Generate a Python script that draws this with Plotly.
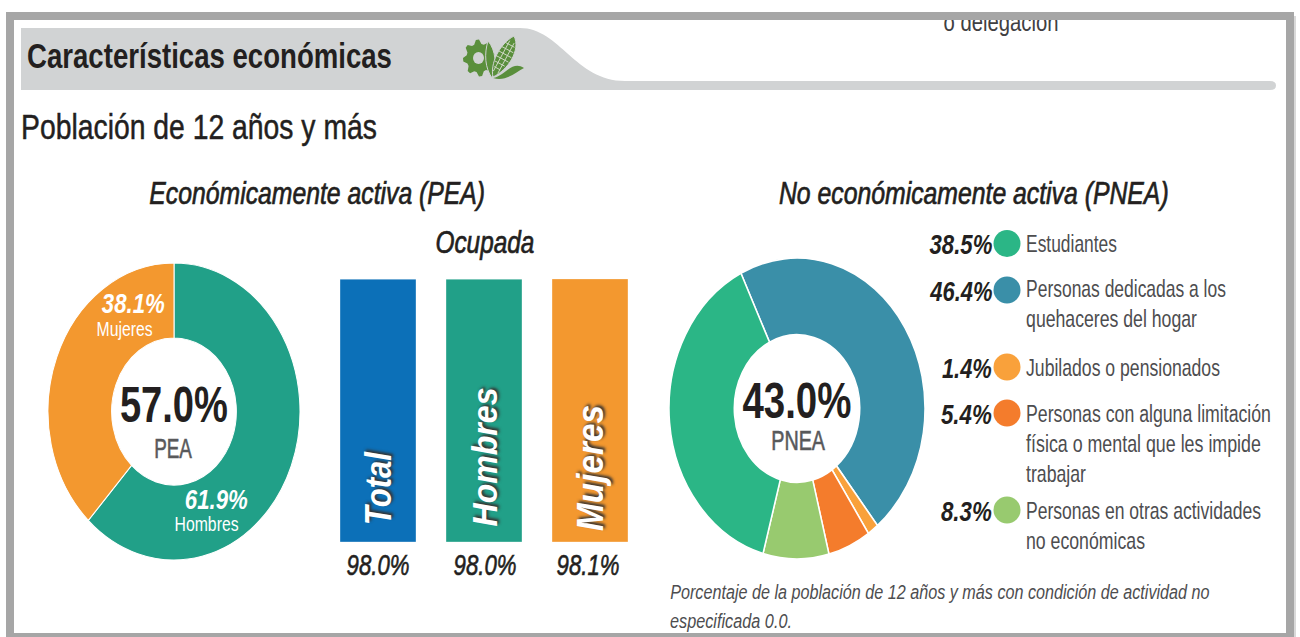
import json
import numpy as np
import plotly.graph_objects as go

W, H = 1300, 637
FONT = "Liberation Sans"
DARK = "#231f20"
GREY_TXT = "#4d4d4f"

pea_labels = ["Hombres", "Mujeres"]
pea_values = [61.9, 38.1]
pea_colors = ["#21a088", "#f3982f"]

ocup_cats = ["Total", "Hombres", "Mujeres"]
ocup_vals = [98.0, 98.0, 98.1]
ocup_colors = ["#0c70b8", "#21a088", "#f3982f"]

pnea_labels = ["Personas dedicadas a los quehaceres del hogar", "Jubilados o pensionados",
               "Personas con alguna limitación física o mental que les impide trabajar",
               "Personas en otras actividades no económicas", "Estudiantes"]
pnea_values = [46.4, 1.4, 5.4, 8.3, 38.5]
pnea_colors = ["#3a8fa8", "#f9a13b", "#f47c2c", "#98ca6f", "#2bb686"]

legend_pct = ["38.5%", "46.4%", "1.4%", "5.4%", "8.3%"]
legend_col = ["#2bb686", "#3a8fa8", "#f9a13b", "#f47c2c", "#98ca6f"]
legend_y = [243.5, 290, 367, 413, 510]
legend_text_y = [243.5, 288.5, 367, 413, 510]
legend_lines = [["Estudiantes"],
                ["Personas dedicadas a los", "quehaceres del hogar"],
                ["Jubilados o pensionados"],
                ["Personas con alguna limitación", "física o mental que les impide", "trabajar"],
                ["Personas en otras actividades", "no económicas"]]
legend_pct_w = [63, 63, 50, 51, 51]
legend_line_w = [[91], [200, 171], [194], [245, 235, 60], [235, 119]]


def px(x): return x / W
def py(y): return 1 - y / H


fig = go.Figure()


def pie_domain(cx, cy, r):
    return dict(x=[px(cx - r), px(cx + r)], y=[py(cy + r), py(cy - r)])


fig.add_trace(go.Pie(labels=pea_labels, values=pea_values, sort=False, direction="clockwise",
                     rotation=0, hole=0.495, textinfo="none", hoverinfo="label+percent",
                     marker=dict(colors=pea_colors, line=dict(color="white", width=1)),
                     domain=pie_domain(174, 411.5, 126), showlegend=False))
fig.add_trace(go.Pie(labels=pnea_labels, values=pnea_values, sort=False, direction="clockwise",
                     rotation=-26, hole=0.49, textinfo="none", hoverinfo="label+percent",
                     marker=dict(colors=pnea_colors, line=dict(color="white", width=1.5)),
                     domain=pie_domain(797, 408.5, 128), showlegend=False))

fig.add_trace(go.Bar(x=ocup_cats, y=ocup_vals, width=0.717, showlegend=False,
                     marker=dict(color=ocup_colors, line=dict(color="rgba(255,255,255,0.35)", width=1))))
fig.update_layout(
    xaxis=dict(domain=[px(325), px(643)], range=[-0.5, 2.5], visible=False, type="category"),
    yaxis=dict(domain=[py(542), py(279)], range=[0, 98.05], visible=False),
    xaxis2=dict(domain=[0, 1], range=[0, W], visible=False, anchor="y2"),
    yaxis2=dict(domain=[0, 1], range=[H, 0], visible=False, anchor="x2"),
    width=W, height=H, autosize=False,
    margin=dict(l=0, r=0, t=0, b=0),
    paper_bgcolor="white", plot_bgcolor="rgba(0,0,0,0)",
    font=dict(family=FONT, color=DARK),
)

# text clipped by the frame
fig.add_trace(go.Scatter(x=[1001], y=[31], mode="text", text=["o delegación"], xaxis="x2", yaxis="y2",
                         textfont=dict(size=25, family=FONT, color="#414042"), showlegend=False,
                         hoverinfo="skip", cliponaxis=False))

# legend dots
fig.add_trace(go.Scatter(x=[1007] * len(legend_y), y=legend_y, mode="markers",
                         xaxis="x2", yaxis="y2", showlegend=False, hoverinfo="skip",
                         marker=dict(size=27, color=legend_col, line=dict(width=0))))

shapes = []


def pshape(**k):
    shapes.append(dict(xref="paper", yref="paper", **k))


hdr = (f"M {px(21)} {py(28)} L {px(520)} {py(28)} "
       f"C {px(560)} {py(28)}, {px(575)} {py(81)}, {px(625)} {py(81)} "
       f"L {px(1270)} {py(81)} Q {px(1276)} {py(81)}, {px(1276)} {py(85.5)} Q {px(1276)} {py(90)}, {px(1270)} {py(90)} "
       f"L {px(21)} {py(90)} Z")
pshape(type="path", path=hdr, fillcolor="#d1d3d4", line=dict(width=0), layer="below")

# icon: gear
GREEN = "#5a8f3c"
BG = "#d1d3d4"
cx, cy = 479, 58
teeth = 8
pts = []
for i in range(teeth * 4):
    a = 2 * np.pi * i / (teeth * 4) - np.pi / 16
    r = 16 if i % 4 in (0, 1) else 12.5
    pts.append((cx + r * np.cos(a), cy + r * np.sin(a) * 1.15))
gear = "M " + " L ".join(f"{px(a)} {py(b)}" for a, b in pts) + " Z"
pshape(type="path", path=gear, fillcolor=GREEN, line=dict(width=0), layer="above")
pshape(type="circle", x0=px(473), x1=px(484), y0=py(64), y1=py(52), fillcolor=BG, line=dict(width=0), layer="above")
# icon: leaves
leaf2 = (f"M {px(492)} {py(78)} C {px(485)} {py(68)}, {px(484)} {py(54)}, {px(488)} {py(41)} "
         f"C {px(496)} {py(50)}, {px(497)} {py(66)}, {px(492)} {py(78)} Z")
pshape(type="path", path=leaf2, fillcolor=GREEN, line=dict(color=BG, width=1), layer="above")
leaf = (f"M {px(493)} {py(78)} C {px(505)} {py(76)}, {px(512)} {py(60)}, {px(524)} {py(68)} "
        f"C {px(516)} {py(72)}, {px(506)} {py(82)}, {px(493)} {py(78)} Z")
pshape(type="path", path=leaf, fillcolor=GREEN, line=dict(width=0), layer="above")
# icon: cob with kernel grid
corn = (f"M {px(514)} {py(36)} C {px(521)} {py(50)}, {px(508)} {py(70)}, {px(493)} {py(77)} "
        f"C {px(490)} {py(64)}, {px(499)} {py(44)}, {px(514)} {py(36)} Z")
pshape(type="path", path=corn, fillcolor=GREEN, line=dict(color=BG, width=1), layer="above")
A, B = np.array([514.0, 37.0]), np.array([493.0, 76.0])
u = (B - A) / np.linalg.norm(B - A)
n = np.array([-u[1], u[0]])
for t in (0.2, 0.32, 0.44, 0.56, 0.68, 0.8):
    c = A + (B - A) * t
    h = 7.5 * np.sin(np.pi * min(t + 0.05, 0.95))
    p0, p1 = c - n * h, c + n * h
    pshape(type="line", x0=px(p0[0]), y0=py(p0[1]), x1=px(p1[0]), y1=py(p1[1]),
           line=dict(color="#cfd8c4", width=1), layer="above")
for off in (-3, 2):
    p0, p1 = A + (B - A) * 0.12 + n * off, A + (B - A) * 0.9 + n * off
    pshape(type="line", x0=px(p0[0]), y0=py(p0[1]), x1=px(p1[0]), y1=py(p1[1]),
           line=dict(color="#cfd8c4", width=1), layer="above")

# frame with soft right shadow
pshape(type="rect", x0=px(1294), x1=px(1296), y0=py(16), y1=py(637), fillcolor="#d9d9d9", line=dict(width=0), layer="above")
frame = (f"M {px(6)} {py(12)} L {px(1294)} {py(12)} L {px(1294)} {py(637)} L {px(6)} {py(637)} Z "
         f"M {px(14)} {py(20)} L {px(14)} {py(633)} L {px(1286)} {py(633)} L {px(1286)} {py(20)} Z")
pshape(type="path", path=frame, fillcolor="#a6a6a6", line=dict(width=0), layer="above")
fig.update_layout(shapes=shapes)

anns = []
fits = []


def text(x, y, s, size, width, color=DARK, bold=False, italic=False, anchor="left", angle=0, shadow=None, heavy=0):
    t = s
    if bold:
        t = f"<b>{t}</b>"
    if italic:
        t = f"<i>{t}</i>"
    f = dict(size=size, color=color, family=FONT)
    if shadow:
        f["shadow"] = shadow
    anns.append(dict(xref="paper", yref="paper", x=px(x), y=py(y), text=t, showarrow=False,
                     xanchor=anchor, yanchor="middle", font=f, textangle=angle,
                     borderpad=0, borderwidth=0))
    fits.append([width, anchor, heavy, color])


text(27, 55.5, "Características económicas", 36, 365, bold=True)
text(21, 127, "Población de 12 años y más", 36, 356, heavy=0.5)
text(317, 193, "Económicamente activa (PEA)", 31, 336, italic=True, anchor="center", heavy=0.7)
text(484.5, 242, "Ocupada", 31, 99, italic=True, anchor="center", heavy=0.7)
text(974, 193, "No económicamente activa (PNEA)", 31, 390, italic=True, anchor="center", heavy=0.7)

text(174, 405, "57.0%", 50, 108, bold=True, anchor="center")
text(173, 449, "PEA", 28, 38, color="#58595b", anchor="center", heavy=0.6)
text(133.5, 304, "38.1%", 27, 63, color="white", bold=True, italic=True, anchor="center")
text(124, 329, "Mujeres", 20, 56, color="white", anchor="center")
text(216.5, 500, "61.9%", 27, 63, color="white", bold=True, italic=True, anchor="center")
text(206, 524, "Hombres", 20, 64, color="white", anchor="center")

text(797, 401, "43.0%", 50, 109, bold=True, anchor="center")
text(798, 440, "PNEA", 28, 54, color="#58595b", anchor="center", heavy=0.6)

for cat, xc, yc, w in zip(ocup_cats, [378, 484, 590], [488, 457, 468], [74, 139, 126]):
    text(xc, yc, cat, 36, w, color="white", bold=True, italic=True, anchor="center", angle=-90,
         shadow="2px 2px 3px #333")
for val, xc in zip(ocup_vals, [377.5, 484.5, 587.5]):
    text(xc, 565, f"{val:.1f}%", 29, 63, italic=True, anchor="center", heavy=0.6)

for pct, y, ty, lines, pw, lw in zip(legend_pct, legend_y, legend_text_y, legend_lines, legend_pct_w, legend_line_w):
    text(992, y + 1, pct, 28, pw, bold=True, italic=True, anchor="right")
    for i, ln in enumerate(lines):
        text(1026, ty + i * 30, ln, 24, lw[i], color=GREY_TXT)

text(670, 591, "Porcentaje de la población de 12 años y más con condición de actividad no", 21, 540,
     color=GREY_TXT, italic=True)
text(670, 620, "especificada 0.0.", 21, 122, color=GREY_TXT, italic=True)
fig.update_layout(annotations=anns)

post = """
document.body.style.margin='0';document.body.style.overflow='hidden';
var ks=[[411.5,148.5/126],[408.5,150.5/128]];
document.querySelectorAll('.pielayer .trace').forEach(function(g,i){var c=ks[i];
 g.setAttribute('transform','translate(0,'+c[0]+') scale(1,'+c[1]+') translate(0,'+(-c[0])+')');});
var fits=%s;
document.querySelectorAll('.annotation').forEach(function(a){
 var i=+a.getAttribute('data-index');var t=a.querySelector('text');if(!t||!fits[i])return;
 var b=t.getBBox();var k=fits[i][0]/b.width;
 var p=fits[i][1]=='left'?b.x:(fits[i][1]=='right'?b.x+b.width:b.x+b.width/2);
 t.setAttribute('transform','translate('+p+',0) scale('+k+',1) translate('+(-p)+',0)');
 if(fits[i][2]){t.style.stroke=fits[i][3];t.style.strokeWidth=fits[i][2]+'px';}
});
document.querySelectorAll('.textpoint').forEach(function(g){
 var t=g.querySelector('text');var b=t.getBBox();var k=115/b.width;var p=b.x+b.width/2;
 g.setAttribute('transform','translate('+p+',0) scale('+k+',1) translate('+(-p)+',0)');
});
""" % json.dumps(fits)
fig.write_html("out.html", post_script=post, config=dict(displayModeBar=False))
